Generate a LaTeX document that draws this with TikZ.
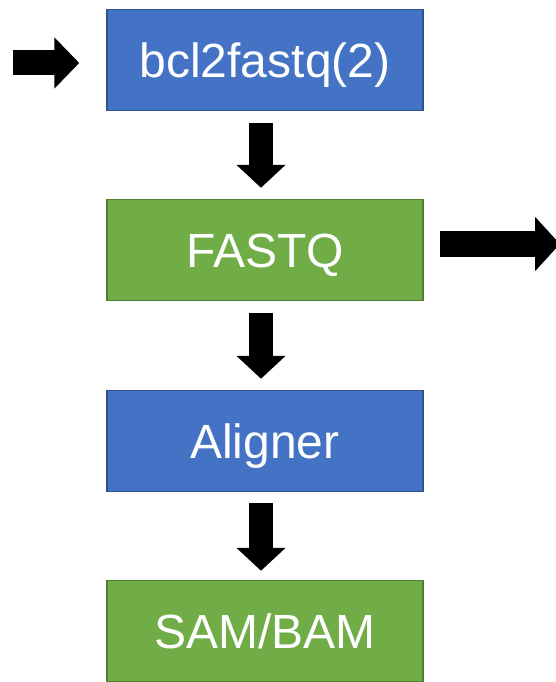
\documentclass[tikz,border=0pt]{standalone}
\usepackage{fontspec}
\setmainfont{Liberation Sans}
\usetikzlibrary{arrows.meta}
\definecolor{stepblue}{HTML}{4472C4}
\definecolor{stepblueline}{HTML}{2F528F}
\definecolor{stepgreen}{HTML}{70AD47}
\definecolor{stepgreenline}{HTML}{507E32}
\tikzset{
  stagebox/.style={draw, line width=1.5pt, minimum width=316pt, minimum height=101pt,
    inner sep=0pt, text=white, font=\fontsize{48}{58}\selectfont,
    text height=34.5pt, text depth=0pt},
  toolbox/.style={stagebox, fill=stepblue, draw=stepblueline},
  filebox/.style={stagebox, fill=stepgreen, draw=stepgreenline},
  flow/.style={line width=24pt, -{Triangle[width=48pt,length=23pt]}},
}
\begin{document}
\begin{tikzpicture}[x=1pt,y=-1pt]
    \useasboundingbox (0,0) rectangle (556,682);
    \node[toolbox] (bcl) at (265,60) {bcl2fastq(2)};
    \node[filebox] (fastq) at (265,250) {FASTQ};
    \node[toolbox] (aligner) at (265,441) {Aligner};
    \node[filebox] (sam) at (265,631) {SAM/BAM};
    \coordinate (input) at (13,63);
    \coordinate (output) at (560,244);
    \draw [flow, line width=25pt, -{Triangle[width=50pt,length=25pt]}, shorten >=27pt] (input) -- (input -| bcl.west);
    \draw [flow, shorten <=12pt, shorten >=11pt] ([xshift=-4pt]bcl.south) -- ([xshift=-4pt]fastq.north);
    \draw [flow, shorten <=12pt, shorten >=11pt] ([xshift=-4pt]fastq.south) -- ([xshift=-4pt]aligner.north);
    \draw [flow, shorten <=11pt, shorten >=9pt] ([xshift=-4pt]aligner.south) -- ([xshift=-4pt]sam.north);
    \draw [flow, line width=26pt, -{Triangle[width=53pt,length=25pt]}, shorten <=16pt] (fastq.east |- output) -- (output);
\end{tikzpicture}
\end{document}
